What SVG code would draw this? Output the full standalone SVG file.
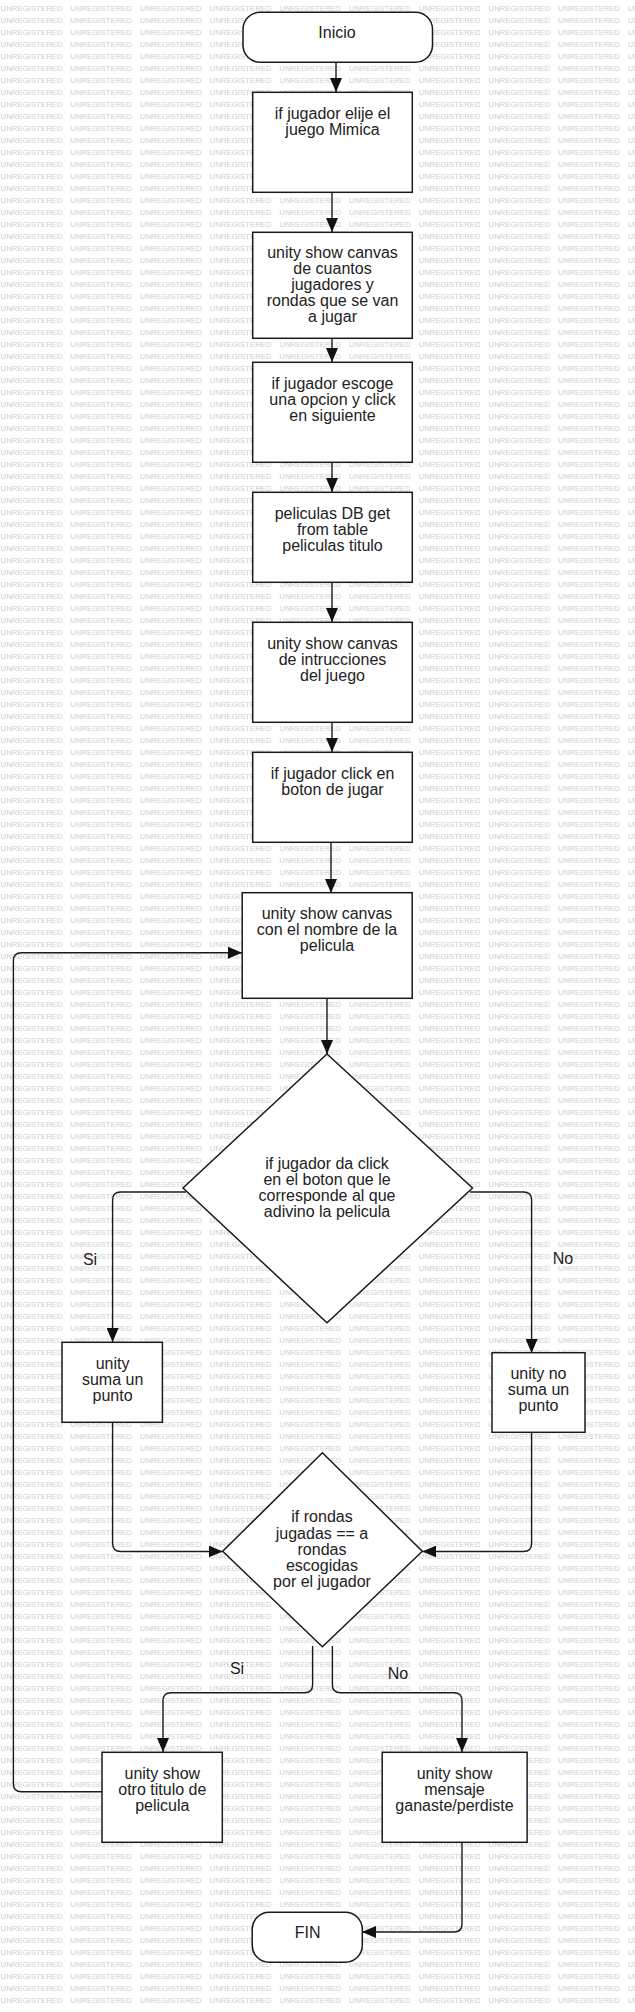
<svg xmlns="http://www.w3.org/2000/svg" width="635" height="2012" viewBox="0 0 635 2012">
<style>
.node{fill:#fff;stroke:#1a1a1a;stroke-width:1.5}
.t{font-family:"Liberation Sans",Arial,sans-serif;font-size:16px;fill:#222;text-anchor:middle}
.lbl{font-family:"Liberation Sans",Arial,sans-serif;font-size:16px;fill:#222;text-anchor:middle}
.c{fill:none;stroke:#1a1a1a;stroke-width:1.4}
.wm{font-family:"Liberation Sans",Arial,sans-serif;font-size:7.6px;fill:#cbcbcb}
</style>
<defs>
<marker id="ah" markerUnits="userSpaceOnUse" markerWidth="14" markerHeight="12" refX="14" refY="6" orient="auto">
<path d="M0,0 L14,6 L0,12 z" fill="#111"/>
</marker>
<pattern id="wmp" patternUnits="userSpaceOnUse" x="0" y="0" width="69.7" height="12">
<text class="wm" x="0.5" y="11.3" textLength="62" lengthAdjust="spacingAndGlyphs">UNREGISTERED</text>
</pattern>
</defs>
<rect x="0" y="0" width="635" height="2012" fill="#fff"/>
<rect x="0" y="0" width="635" height="2008" fill="url(#wmp)"/>

<g id="connectors">
<path class="c" marker-end="url(#ah)" d="M336,62 V92"/>
<path class="c" marker-end="url(#ah)" d="M332,192 V232"/>
<path class="c" marker-end="url(#ah)" d="M332,338 V362"/>
<path class="c" marker-end="url(#ah)" d="M332,462 V492"/>
<path class="c" marker-end="url(#ah)" d="M332,582 V622"/>
<path class="c" marker-end="url(#ah)" d="M332,722 V752"/>
<path class="c" marker-end="url(#ah)" d="M331,842 V893"/>
<path class="c" marker-end="url(#ah)" d="M327,998 V1054"/>
<path class="c" marker-end="url(#ah)" d="M186,1192 H120.6 Q112.6,1192 112.6,1200 V1342"/>
<path class="c" marker-end="url(#ah)" d="M470,1192 H523.6 Q531.6,1192 531.6,1200 V1353"/>
<path class="c" marker-end="url(#ah)" d="M112.6,1422 V1543.5 Q112.6,1551.5 120.6,1551.5 H222.7"/>
<path class="c" marker-end="url(#ah)" d="M531.6,1433 V1543.5 Q531.6,1551.5 523.6,1551.5 H422.3"/>
<path class="c" marker-end="url(#ah)" d="M312.6,1646 V1684.7 Q312.6,1692.7 304.6,1692.7 H171 Q163,1692.7 163,1700.7 V1752"/>
<path class="c" marker-end="url(#ah)" d="M332.4,1646 V1684.7 Q332.4,1692.7 340.4,1692.7 H454 Q462,1692.7 462,1700.7 V1752"/>
<path class="c" marker-end="url(#ah)" d="M462,1842 V1924 Q462,1932 454,1932 H362"/>
<path class="c" marker-end="url(#ah)" d="M102,1791.7 H21.4 Q13.4,1791.7 13.4,1783.7 V960.7 Q13.4,952.7 21.4,952.7 H242"/>
<text class="lbl" x="90" y="1265">Si</text>
<text class="lbl" x="563" y="1264">No</text>
<text class="lbl" x="237" y="1674">Si</text>
<text class="lbl" x="398" y="1679">No</text>
</g>

<g id="inicio">
<rect class="node" x="243" y="12.3" width="189.5" height="50" rx="17" ry="17"/>
<text class="t" x="337" y="38">Inicio</text>
</g>
<g id="n1">
<rect class="node" x="252.7" y="92.3" width="159.6" height="100"/>
<text class="t" x="332.5" y="119">if jugador elije el</text>
<text class="t" x="332.5" y="135">juego Mimica</text>
</g>
<g id="n2">
<rect class="node" x="252.7" y="232.3" width="159.6" height="106"/>
<text class="t" x="332.5" y="258">unity show canvas</text>
<text class="t" x="332.5" y="274">de cuantos</text>
<text class="t" x="332.5" y="290">jugadores y</text>
<text class="t" x="332.5" y="306">rondas que se van</text>
<text class="t" x="332.5" y="322">a jugar</text>
</g>
<g id="n3">
<rect class="node" x="252.7" y="362.3" width="159.6" height="100"/>
<text class="t" x="332.5" y="389">if jugador escoge</text>
<text class="t" x="332.5" y="405">una opcion y click</text>
<text class="t" x="332.5" y="421">en siguiente</text>
</g>
<g id="n4">
<rect class="node" x="252.7" y="492.3" width="159.6" height="90"/>
<text class="t" x="332.5" y="519">peliculas DB get</text>
<text class="t" x="332.5" y="535">from table</text>
<text class="t" x="332.5" y="551">peliculas titulo</text>
</g>
<g id="n5">
<rect class="node" x="252.7" y="622.3" width="159.6" height="100"/>
<text class="t" x="332.5" y="649">unity show canvas</text>
<text class="t" x="332.5" y="665">de intrucciones</text>
<text class="t" x="332.5" y="681">del juego</text>
</g>
<g id="n6">
<rect class="node" x="252.7" y="752.3" width="159.6" height="90"/>
<text class="t" x="332.5" y="778.5">if jugador click en</text>
<text class="t" x="332.5" y="794.5">boton de jugar</text>
</g>
<g id="n7">
<rect class="node" x="242.2" y="892.7" width="170" height="105.6"/>
<text class="t" x="327" y="918.5">unity show canvas</text>
<text class="t" x="327" y="934.5">con el nombre de la</text>
<text class="t" x="327" y="950.5">pelicula</text>
</g>
<g id="d1">
<polygon class="node" points="327,1054 472.5,1188 327,1322.7 183,1188"/>
<text class="t" x="327" y="1168.5">if jugador da click</text>
<text class="t" x="327" y="1184.5">en el boton que le</text>
<text class="t" x="327" y="1200.5">corresponde al que</text>
<text class="t" x="327" y="1216.5">adivino la pelicula</text>
</g>
<g id="si1">
<rect class="node" x="62" y="1342.3" width="100.4" height="80"/>
<text class="t" x="112.6" y="1369">unity</text>
<text class="t" x="112.6" y="1385">suma un</text>
<text class="t" x="112.6" y="1401">punto</text>
</g>
<g id="no1">
<rect class="node" x="492" y="1352.7" width="93" height="79.6"/>
<text class="t" x="538.5" y="1379">unity no</text>
<text class="t" x="538.5" y="1395">suma un</text>
<text class="t" x="538.5" y="1411">punto</text>
</g>
<g id="d2">
<polygon class="node" points="322.4,1452.7 422.3,1551.3 322.4,1646.7 222.7,1551.3"/>
<text class="t" x="322" y="1522">if rondas</text>
<text class="t" x="322" y="1538.5">jugadas == a</text>
<text class="t" x="322" y="1554.5">rondas</text>
<text class="t" x="322" y="1571">escogidas</text>
<text class="t" x="322" y="1587">por el jugador</text>
</g>
<g id="otro">
<rect class="node" x="102" y="1752.3" width="120.3" height="90"/>
<text class="t" x="162.3" y="1778.5">unity show</text>
<text class="t" x="162.3" y="1794.5">otro titulo de</text>
<text class="t" x="162.3" y="1810.5">pelicula</text>
</g>
<g id="mensaje">
<rect class="node" x="382.2" y="1752.3" width="144.9" height="90"/>
<text class="t" x="454.5" y="1778.5">unity show</text>
<text class="t" x="454.5" y="1794.5">mensaje</text>
<text class="t" x="454.5" y="1810.5">ganaste/perdiste</text>
</g>
<g id="fin">
<rect class="node" x="252.2" y="1912.3" width="110.1" height="50" rx="17" ry="17"/>
<text class="t" x="307.7" y="1938">FIN</text>
</g>
</svg>
